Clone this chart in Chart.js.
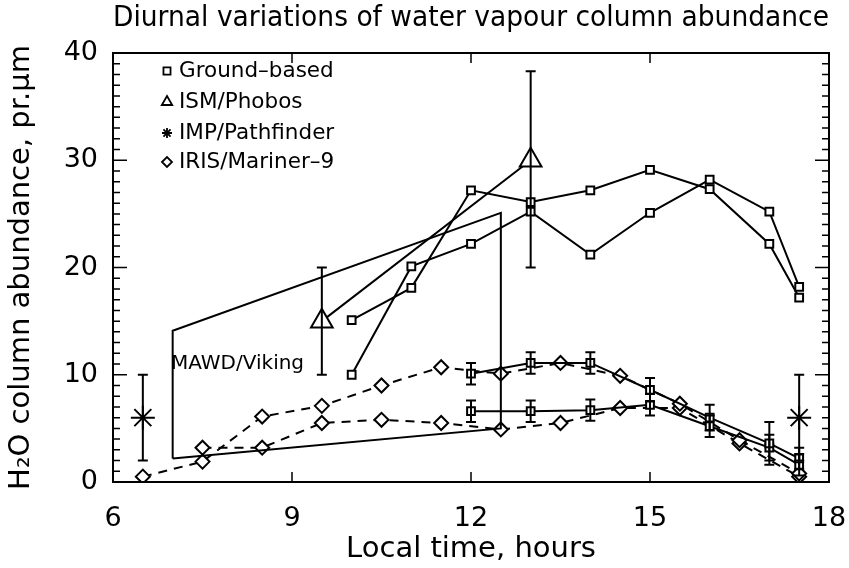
<!DOCTYPE html>
<html>
<head>
<meta charset="utf-8">
<title>Diurnal variations of water vapour column abundance</title>
<script src="https://cdn.jsdelivr.net/npm/chart.js@4.4.1/dist/chart.umd.min.js"></script>
<style>
  html, body { margin: 0; padding: 0; background: #fff; }
  #wrap { width: 849px; height: 568px; }
</style>
</head>
<body>
<div id="wrap"><canvas id="chart" width="849" height="568"></canvas></div>
<script>
// values: local time (hours) vs H2O column (pr. um)
const xTicks = [6, 9, 12, 15, 18];
const yTicks = [0, 10, 20, 30, 40];

const mawdX = [7, 7, 12.5, 12.5, 7];
const mawdY = [2.2, 14.1, 25.1, 5.0, 2.2];

const groundX = [10, 11, 12, 13, 14, 15, 16, 17, 17.5];
const groundA = [10.0, 20.1, 22.2, 25.2, 21.2, 25.1, 28.2, 25.2, 18.2];
const groundB = [15.1, 18.1, 27.2, 26.1, 27.2, 29.1, 27.3, 22.2, 17.2];

const groundErrX = [12, 13, 14, 15, 16, 17, 17.5];
const groundC = [10.1, 11.1, 11.1, 8.6, 6.0, 3.6, 2.2];
const groundCErr = [1.0, 1.0, 1.0, 1.1, 1.2, 2.0, 1.0];
const groundD = [6.6, 6.6, 6.7, 7.2, 5.2, 3.2, 1.6];
const groundDErr = [1.0, 1.0, 1.0, 1.0, 1.0, 1.2, 1.0];

const ismX = [9.5, 13];
const ismY = [15, 30];
const ismLow = [10, 20];
const ismHigh = [20, 38.3];

const impX = [6.5, 17.5];
const impY = [6, 6];
const impErr = [4, 4];

const irisX1 = [6.5, 7.5, 8.5, 9.5, 10.5, 11.5, 12.5, 13.5, 14.5, 15.5, 16.5, 17.5];
const irisY1 = [0.5, 1.9, 6.1, 7.1, 9.0, 10.7, 10.1, 11.1, 9.9, 7.3, 3.9, 0.8];
const irisX2 = [7.5, 8.5, 9.5, 10.5, 11.5, 12.5, 13.5, 14.5, 15.5, 16.5, 17.5];
const irisY2 = [3.2, 3.2, 5.5, 5.8, 5.5, 4.9, 5.5, 6.9, 6.9, 3.6, 0.5];

const legendLabels = ['Ground\u2013based', 'ISM/Phobos', 'IMP/Pathfinder', 'IRIS/Mariner\u20139'];
const legendStyles = ['rect', 'triangle', 'star', 'rectRot'];

const FONT = "'DejaVu Sans', sans-serif";
Chart.defaults.font.family = FONT;
Chart.defaults.color = '#000';

function pts(xs, ys) {
  return xs.map((x, i) => ({ x: x, y: ys[i] }));
}

function series(xs, ys, style, radius, dashed) {
  return {
    data: pts(xs, ys),
    showLine: true,
    borderColor: '#000',
    borderWidth: 2,
    borderDash: dashed ? [9, 7] : [],
    pointStyle: style,
    pointRadius: radius,
    pointBorderColor: '#000',
    pointBackgroundColor: '#fff',
    pointBorderWidth: 2,
    tension: 0
  };
}

const datasets = [];
datasets.push(series(mawdX, mawdY, false, 0, false));
datasets.push(series(groundX, groundA, 'rect', 5.5, false));
datasets.push(series(groundX, groundB, 'rect', 5.5, false));

const gc = series(groundErrX, groundC, 'rect', 5.5, false);
gc.errLow = groundC.map((v, i) => v - groundCErr[i]);
gc.errHigh = groundC.map((v, i) => v + groundCErr[i]);
datasets.push(gc);

const gd = series(groundErrX, groundD, 'rect', 5.5, false);
gd.errLow = groundD.map((v, i) => v - groundDErr[i]);
gd.errHigh = groundD.map((v, i) => v + groundDErr[i]);
datasets.push(gd);

datasets.push(series(irisX1, irisY1, 'rectRot', 7, true));
datasets.push(series(irisX2, irisY2, 'rectRot', 7, true));

const ism = series(ismX, ismY, 'triangle', 12.5, false);
ism.errLow = ismLow;
ism.errHigh = ismHigh;
datasets.push(ism);

const imp = series(impX, impY, 'star', 12, false);
imp.showLine = false;
imp.errLow = impY.map((v, i) => v - impErr[i]);
imp.errHigh = impY.map((v, i) => v + impErr[i]);
datasets.push(imp);

// error bars, frame with inward ticks, inner legend and the MAWD label
const extras = {
  id: 'extras',
  afterDatasetsDraw(chart) {
    const ctx = chart.ctx;
    const xs = chart.scales.x, ys = chart.scales.y;
    ctx.save();
    ctx.strokeStyle = '#000';
    ctx.lineWidth = 2;
    chart.data.datasets.forEach(ds => {
      if (!ds.errLow) return;
      ds.data.forEach((p, i) => {
        const px = xs.getPixelForValue(p.x);
        const y1 = ys.getPixelForValue(ds.errLow[i]);
        const y2 = ys.getPixelForValue(ds.errHigh[i]);
        ctx.beginPath();
        ctx.moveTo(px, y1); ctx.lineTo(px, y2);
        ctx.moveTo(px - 5, y1); ctx.lineTo(px + 5, y1);
        ctx.moveTo(px - 5, y2); ctx.lineTo(px + 5, y2);
        ctx.stroke();
      });
    });
    ctx.restore();
  },
  afterDraw(chart) {
    const ctx = chart.ctx;
    const a = chart.chartArea;
    const xs = chart.scales.x, ys = chart.scales.y;
    ctx.save();
    ctx.strokeStyle = '#000';
    ctx.lineWidth = 2;
    ctx.strokeRect(a.left, a.top, a.right - a.left, a.bottom - a.top);

    ctx.lineWidth = 1.5;
    ctx.beginPath();
    for (let v = ys.min; v <= ys.max; v++) {
      const py = ys.getPixelForValue(v);
      const len = v % 10 === 0 ? 14 : 7;
      ctx.moveTo(a.left, py); ctx.lineTo(a.left + len, py);
      ctx.moveTo(a.right, py); ctx.lineTo(a.right - len, py);
    }
    xTicks.forEach(v => {
      if (v === xs.min || v === xs.max) return;
      const px = xs.getPixelForValue(v);
      ctx.moveTo(px, a.bottom); ctx.lineTo(px, a.bottom - 10);
      ctx.moveTo(px, a.top); ctx.lineTo(px, a.top + 10);
    });
    ctx.stroke();

    // legend inside the plot
    ctx.fillStyle = '#000';
    ctx.font = '21.5px ' + FONT;
    ctx.textBaseline = 'middle';
    ctx.textAlign = 'left';
    const rowY = [71, 102, 133, 162];
    legendLabels.forEach((lab, i) => {
      ctx.save();
      ctx.lineWidth = 1.8;
      ctx.fillStyle = '#fff';
      Chart.helpers.drawPoint(ctx, {
        pointStyle: legendStyles[i], radius: i === 1 ? 6 : 5, rotation: 0, borderWidth: 1.8
      }, 167, rowY[i]);
      ctx.restore();
      ctx.fillText(lab, 179, rowY[i]);
    });

    ctx.font = '20px ' + FONT;
    ctx.fillText('MAWD/Viking', 171, 364);
    ctx.restore();
  }
};

new Chart(document.getElementById('chart'), {
  type: 'scatter',
  data: { datasets: datasets },
  plugins: [extras],
  options: {
    responsive: false,
    animation: false,
    layout: { padding: { left: 0, right: 20, top: 0, bottom: 0 } },
    plugins: {
      legend: { display: false },
      tooltip: { enabled: false },
      title: {
        display: true,
        text: 'Diurnal variations of water vapour column abundance',
        fullSize: false,
        align: 'start',
        color: '#000',
        font: { size: 28, weight: 'normal' },
        padding: { top: 2, bottom: 17.4 }
      }
    },
    scales: {
      x: {
        type: 'linear',
        min: 6,
        max: 18,
        afterBuildTicks: s => { s.ticks = xTicks.map(v => ({ value: v })); },
        afterFit: s => { s.height = 86; s.paddingRight = 0; s.paddingLeft = 0; },
        grid: { display: false, drawTicks: false },
        border: { display: false },
        ticks: { font: { size: 27 }, color: '#000', padding: 21, maxRotation: 0 },
        title: {
          display: true,
          text: 'Local time, hours',
          color: '#000',
          font: { size: 29 },
          padding: { top: 0, bottom: 1 }
        }
      },
      y: {
        type: 'linear',
        min: 0,
        max: 40,
        afterBuildTicks: s => { s.ticks = yTicks.map(v => ({ value: v })); },
        afterFit: s => { s.width = 113; },
        grid: { display: false, drawTicks: false },
        border: { display: false },
        ticks: { font: { size: 27 }, color: '#000', padding: 15 },
        title: {
          display: true,
          text: 'H\u2082O column abundance, pr.\u03bcm',
          color: '#000',
          font: { size: 29 },
          padding: { top: 4, bottom: 0 }
        }
      }
    }
  }
});
</script>
</body>
</html>
